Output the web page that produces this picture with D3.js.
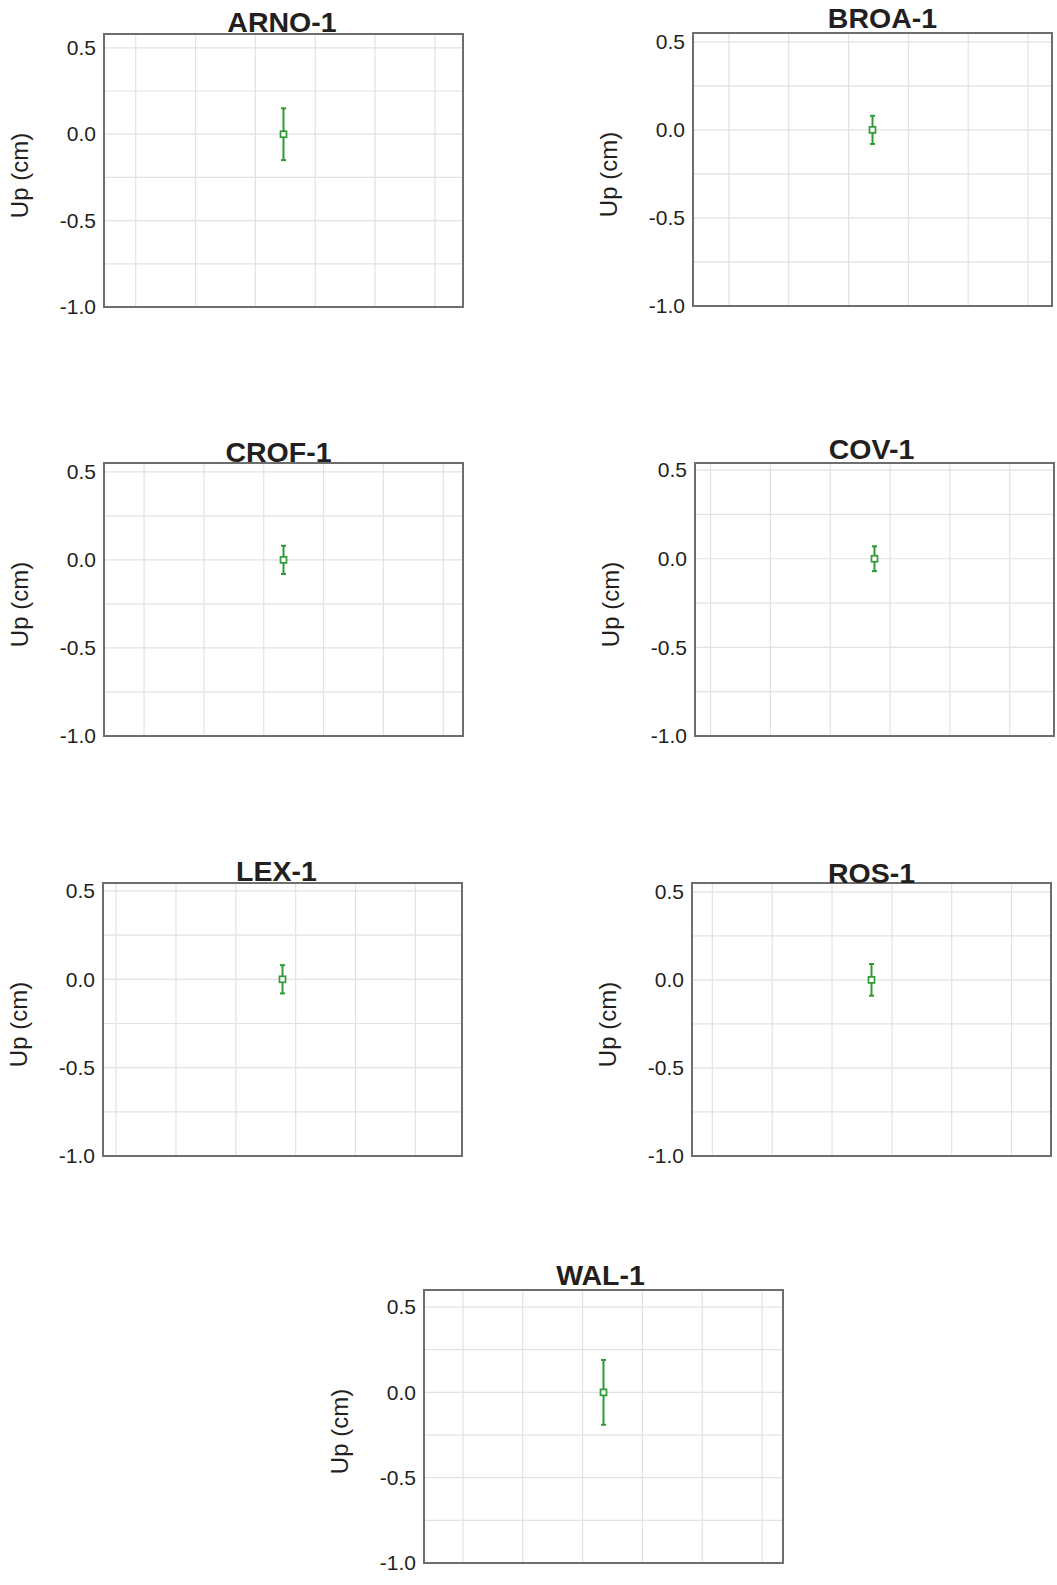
<!DOCTYPE html>
<html lang="en">
<head>
  <meta charset="UTF-8">
  <title>Up (cm) by station</title>
  <script src="https://d3js.org/d3.v7.min.js"></script>
  <style>
    body { margin: 0; background: #fff; }
    .title { font-family: "Liberation Sans", Arial, sans-serif; font-weight: bold; font-size: 28.5px; fill: #231f20; }
    .tick-label { font-family: "Liberation Sans", Arial, sans-serif; font-size: 21px; fill: #231f20; }
    .axis-label { font-family: "Liberation Sans", Arial, sans-serif; font-size: 24px; fill: #231f20; }
    .grid { stroke: #e2e2e2; stroke-width: 1.2px; }
    .frame { fill: none; stroke: #6e6e6e; stroke-width: 2px; }
  </style>
</head>
<body>
  <div id="chart"></div>

  <script>
    // data
    const stations = ["ARNO-1", "BROA-1", "CROF-1", "COV-1", "LEX-1", "ROS-1", "WAL-1"];
    const epochs = [2016.47, 2016.40, 2016.33, 2016.74, 2016.78, 2016.66, 2016.35];
    const upValues = [0, 0, 0, 0, 0, 0, 0];
    const upErrors = [0.15, 0.08, 0.08, 0.07, 0.08, 0.09, 0.19];
    const yTickLabels = [0.5, 0.0, -0.5, -1.0];
    const yGridValues = [0.5, 0.25, 0.0, -0.25, -0.5, -0.75];

    // panel placement: frame corner, top of y range, title nudge
    const panels = [
      { x: 104, y: 34, top: 0.58, tdx: -1.5, tdy: -2.5 },
      { x: 693, y: 33, top: 0.55, tdx: 10, tdy: -5 },
      { x: 104, y: 463, top: 0.55, tdx: -5, tdy: -1.5 },
      { x: 695, y: 463, top: 0.54, tdx: -3, tdy: -4 },
      { x: 103, y: 883, top: 0.545, tdx: -6, tdy: -2.5 },
      { x: 692, y: 883, top: 0.55, tdx: 0, tdy: 0 },
      { x: 424, y: 1290, top: 0.60, tdx: -3, tdy: -5 }
    ];
    const w = 359, h = 273;
    const green = "#2f9a36";

    const svg = d3.select("#chart")
      .append("svg")
      .attr("width", 1057)
      .attr("height", 1585);

    stations.forEach((name, i) => {
      const p = panels[i];
      const g = svg.append("g").attr("transform", `translate(${p.x},${p.y})`);

      const x = d3.scaleLinear()
        .domain([epochs[i] - 3, epochs[i] + 3])
        .range([0, w]);
      const y = d3.scaleLinear()
        .domain([-1.0, p.top])
        .range([h, 0]);

      // grid
      const xGrid = d3.range(Math.ceil(x.domain()[0]), x.domain()[1]);
      g.selectAll(".vgrid")
        .data(xGrid)
        .enter()
        .append("line")
        .attr("class", "grid")
        .attr("x1", d => x(d)).attr("x2", d => x(d))
        .attr("y1", 0).attr("y2", h);
      g.selectAll(".hgrid")
        .data(yGridValues)
        .enter()
        .append("line")
        .attr("class", "grid")
        .attr("x1", 0).attr("x2", w)
        .attr("y1", d => y(d)).attr("y2", d => y(d));

      // y axis labels
      const yAxis = g.append("g")
        .call(d3.axisLeft(y).tickValues(yTickLabels).tickFormat(d => d.toFixed(1)).tickSize(0).tickPadding(8));
      yAxis.select(".domain").remove();
      yAxis.selectAll("text").attr("class", "tick-label").attr("font-size", null).attr("font-family", null);
      yAxis.attr("font-size", null).attr("font-family", null);

      g.append("rect")
        .attr("class", "frame")
        .attr("width", w)
        .attr("height", h);

      // error bar
      const cx = x(epochs[i]);
      const v = upValues[i], e = upErrors[i];
      g.append("line")
        .attr("x1", cx).attr("x2", cx)
        .attr("y1", y(v + e)).attr("y2", y(v - e))
        .attr("stroke", green).attr("stroke-width", 2);
      [v + e, v - e].forEach(c => {
        g.append("line")
          .attr("x1", cx - 2.5).attr("x2", cx + 2.5)
          .attr("y1", y(c)).attr("y2", y(c))
          .attr("stroke", green).attr("stroke-width", 2);
      });
      g.append("rect")
        .attr("x", cx - 3).attr("y", y(v) - 3)
        .attr("width", 6).attr("height", 6)
        .attr("fill", "white")
        .attr("stroke", green).attr("stroke-width", 1.7);

      g.append("text")
        .attr("class", "title")
        .attr("x", w / 2 + p.tdx)
        .attr("y", p.tdy)
        .attr("text-anchor", "middle")
        .text(name);

      g.append("text")
        .attr("class", "axis-label")
        .attr("transform", `translate(-76,${h / 2 + 5}) rotate(-90)`)
        .attr("text-anchor", "middle")
        .text("Up (cm)");
    });
  </script>
</body>
</html>
